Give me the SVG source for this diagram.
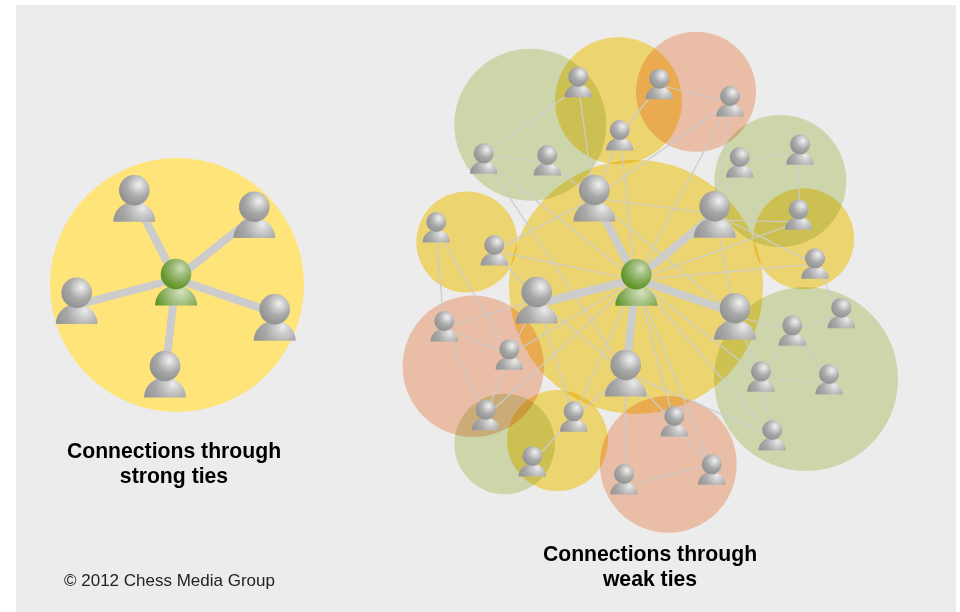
<svg xmlns="http://www.w3.org/2000/svg" xmlns:xlink="http://www.w3.org/1999/xlink" width="960" height="612" viewBox="0 0 960 612">
<style>
.t{font-family:"Liberation Sans",Arial,sans-serif;font-weight:700;font-size:21.2px;fill:#000;text-anchor:middle}
.c{font-family:"Liberation Sans",Arial,sans-serif;font-size:17px;fill:#222}
.y{fill:#ffe57a;mix-blend-mode:multiply}
.g{fill:#dee8b8;mix-blend-mode:multiply}
.s{fill:#fccdb3;mix-blend-mode:multiply}
.thick line{stroke:#ccc;stroke-width:8}
.thin line{stroke:#ccc;stroke-width:1.25}
</style>
<defs>
<radialGradient id="hg" cx=".64" cy=".32" r=".66"><stop offset="0" stop-color="#f2f2f2"/><stop offset=".22" stop-color="#d6d6d6"/><stop offset=".6" stop-color="#a9a9a9"/><stop offset="1" stop-color="#949494"/></radialGradient>
<radialGradient id="bg" gradientUnits="userSpaceOnUse" cx="8" cy="18" r="29"><stop offset="0" stop-color="#ececec"/><stop offset=".22" stop-color="#cfcfcf"/><stop offset=".6" stop-color="#a9a9a9"/><stop offset="1" stop-color="#969696"/></radialGradient>
<radialGradient id="hv" cx=".64" cy=".32" r=".66"><stop offset="0" stop-color="#cfdfb8"/><stop offset=".3" stop-color="#a6c186"/><stop offset=".75" stop-color="#76a344"/><stop offset="1" stop-color="#5f9428"/></radialGradient>
<radialGradient id="bv" gradientUnits="userSpaceOnUse" cx="5" cy="18" r="27"><stop offset="0" stop-color="#d4e2bf"/><stop offset=".35" stop-color="#adc78e"/><stop offset="1" stop-color="#5f9428"/></radialGradient>
<g id="person"><path d="M-21 31.4A21 20 0 0 1 21 31.4Z" fill="url(#bg)"/><circle r="15.3" fill="url(#hg)"/></g>
<g id="center"><path d="M-21 31.4A21 20 0 0 1 21 31.4Z" fill="url(#bv)"/><circle r="15.3" fill="url(#hv)"/></g>
</defs>
<rect width="960" height="612" fill="#fff"/>
<rect x="16" y="5" width="940" height="607" fill="#ececec"/>
<g id="circles-left"><circle cx="177" cy="285" r="127" fill="#ffe47a"/></g>
<g id="circles-right">
<circle class="y" cx="636" cy="287" r="127"/>
<circle class="g" cx="530.3" cy="124.7" r="76"/>
<circle class="y" cx="618.5" cy="100.7" r="63.5"/>
<circle class="s" cx="696" cy="91.7" r="60"/>
<circle class="g" cx="780.3" cy="181" r="66"/>
<circle class="y" cx="803.7" cy="238.8" r="50.5"/>
<circle class="y" cx="466.8" cy="242" r="50.5"/>
<circle class="s" cx="473.3" cy="366.3" r="70.7"/>
<circle class="g" cx="504.7" cy="444" r="50.3"/>
<circle class="y" cx="557.5" cy="440.5" r="50.5"/>
<circle class="s" cx="668.3" cy="464.3" r="68.4"/>
<circle class="g" cx="806" cy="379" r="92"/>
</g>
<g id="connectors">
<g class="thick">
<line x1="176" y1="279" x2="134" y2="198"/>
<line x1="176" y1="279" x2="254" y2="217"/>
<line x1="176" y1="279" x2="77" y2="305"/>
<line x1="176" y1="279" x2="275" y2="313"/>
<line x1="176" y1="279" x2="165" y2="374"/>
<line x1="636" y1="279" x2="594" y2="198"/>
<line x1="636" y1="279" x2="715" y2="214"/>
<line x1="636" y1="279" x2="537" y2="304"/>
<line x1="636" y1="279" x2="735" y2="313"/>
<line x1="636" y1="279" x2="626" y2="373"/>
</g>
<g class="thin">
<line x1="484" y1="155.6" x2="578" y2="87.3"/>
<line x1="484" y1="154" x2="547" y2="163"/>
<line x1="578" y1="83" x2="594" y2="198"/>
<line x1="620" y1="136" x2="659" y2="85"/>
<line x1="620" y1="136" x2="594" y2="198"/>
<line x1="620" y1="136" x2="636" y2="280"/>
<line x1="547" y1="161" x2="594" y2="198"/>
<line x1="594" y1="198" x2="730" y2="102"/>
<line x1="484" y1="159" x2="636" y2="280"/>
<line x1="484" y1="159" x2="626" y2="373"/>
<line x1="436" y1="228" x2="444" y2="327"/>
<line x1="436" y1="228" x2="509" y2="355"/>
<line x1="494" y1="251" x2="594" y2="198"/>
<line x1="494" y1="251" x2="636" y2="280"/>
<line x1="494" y1="251" x2="537" y2="300"/>
<line x1="594" y1="198" x2="715" y2="214"/>
<line x1="594" y1="198" x2="735" y2="316"/>
<line x1="636" y1="280" x2="730" y2="102"/>
<line x1="715" y1="214" x2="730" y2="102"/>
<line x1="715" y1="214" x2="740" y2="163"/>
<line x1="740" y1="163" x2="800" y2="150"/>
<line x1="799" y1="150" x2="799" y2="215"/>
<line x1="715" y1="220" x2="799" y2="222"/>
<line x1="715" y1="214" x2="815" y2="264"/>
<line x1="636" y1="280" x2="799" y2="222"/>
<line x1="636" y1="280" x2="815" y2="264"/>
<line x1="659" y1="85" x2="730" y2="102"/>
<line x1="715" y1="214" x2="735" y2="316"/>
<line x1="815" y1="264" x2="841" y2="314"/>
<line x1="841" y1="314" x2="792" y2="331"/>
<line x1="735" y1="316" x2="792" y2="331"/>
<line x1="792" y1="331" x2="761" y2="377"/>
<line x1="792" y1="331" x2="829" y2="380"/>
<line x1="761" y1="377" x2="829" y2="384"/>
<line x1="735" y1="316" x2="761" y2="377"/>
<line x1="761" y1="377" x2="772" y2="436"/>
<line x1="636" y1="280" x2="761" y2="377"/>
<line x1="636" y1="280" x2="772" y2="436"/>
<line x1="626" y1="373" x2="772" y2="436"/>
<line x1="626" y1="373" x2="674" y2="422"/>
<line x1="636" y1="280" x2="674" y2="422"/>
<line x1="636" y1="280" x2="712" y2="470"/>
<line x1="674" y1="422" x2="712" y2="470"/>
<line x1="624" y1="487" x2="712" y2="464"/>
<line x1="626" y1="373" x2="624" y2="480"/>
<line x1="626" y1="373" x2="574" y2="417"/>
<line x1="636" y1="280" x2="574" y2="417"/>
<line x1="537" y1="300" x2="574" y2="417"/>
<line x1="537" y1="300" x2="626" y2="373"/>
<line x1="537" y1="300" x2="444" y2="327"/>
<line x1="537" y1="300" x2="509" y2="355"/>
<line x1="636" y1="280" x2="509" y2="355"/>
<line x1="636" y1="280" x2="486" y2="416"/>
<line x1="444" y1="327" x2="509" y2="355"/>
<line x1="444" y1="327" x2="486" y2="416"/>
<line x1="509" y1="355" x2="486" y2="416"/>
<line x1="574" y1="417" x2="532" y2="462"/>
</g>
</g>
<g id="left-p1"><use href="#person" transform="translate(134.3 190.3)"/></g>
<g id="left-p2"><use href="#person" transform="translate(254.3 206.7)"/></g>
<g id="left-p3"><use href="#person" transform="translate(76.7 292.7)"/></g>
<g id="left-p4"><use href="#person" transform="translate(274.7 309.3)"/></g>
<g id="left-p5"><use href="#person" transform="translate(165 366)"/></g>
<g id="left-center"><use href="#center" transform="translate(176 274)"/></g>
<g id="right-s1"><use href="#person" transform="translate(578.3 76.7) scale(.655)"/></g>
<g id="right-s2"><use href="#person" transform="translate(659.3 78.7) scale(.655)"/></g>
<g id="right-s3"><use href="#person" transform="translate(619.7 130) scale(.655)"/></g>
<g id="right-s4"><use href="#person" transform="translate(483.7 153.3) scale(.655)"/></g>
<g id="right-s5"><use href="#person" transform="translate(547.3 155) scale(.655)"/></g>
<g id="right-s6"><use href="#person" transform="translate(436.3 222) scale(.655)"/></g>
<g id="right-s7"><use href="#person" transform="translate(494.3 245) scale(.655)"/></g>
<g id="right-s8"><use href="#person" transform="translate(730 96) scale(.655)"/></g>
<g id="right-s9"><use href="#person" transform="translate(739.7 157) scale(.655)"/></g>
<g id="right-s10"><use href="#person" transform="translate(800 144.3) scale(.655)"/></g>
<g id="right-s11"><use href="#person" transform="translate(798.7 209.3) scale(.655)"/></g>
<g id="right-s12"><use href="#person" transform="translate(815 258.3) scale(.655)"/></g>
<g id="right-s13"><use href="#person" transform="translate(444.3 321) scale(.655)"/></g>
<g id="right-s14"><use href="#person" transform="translate(509.3 349.3) scale(.655)"/></g>
<g id="right-s15"><use href="#person" transform="translate(485.7 409.7) scale(.655)"/></g>
<g id="right-s16"><use href="#person" transform="translate(573.7 411.3) scale(.655)"/></g>
<g id="right-s17"><use href="#person" transform="translate(532.3 456) scale(.655)"/></g>
<g id="right-s18"><use href="#person" transform="translate(624 474) scale(.655)"/></g>
<g id="right-s19"><use href="#person" transform="translate(841.3 307.7) scale(.655)"/></g>
<g id="right-s20"><use href="#person" transform="translate(792.3 325.3) scale(.655)"/></g>
<g id="right-s21"><use href="#person" transform="translate(761 371.3) scale(.655)"/></g>
<g id="right-s22"><use href="#person" transform="translate(829 374) scale(.655)"/></g>
<g id="right-s23"><use href="#person" transform="translate(772.3 430) scale(.655)"/></g>
<g id="right-s24"><use href="#person" transform="translate(674.3 416) scale(.655)"/></g>
<g id="right-s25"><use href="#person" transform="translate(711.7 464.3) scale(.655)"/></g>
<g id="right-l1"><use href="#person" transform="translate(594.3 190)"/></g>
<g id="right-l2"><use href="#person" transform="translate(714.7 206.3)"/></g>
<g id="right-l3"><use href="#person" transform="translate(536.7 292)"/></g>
<g id="right-l4"><use href="#person" transform="translate(625.7 365)"/></g>
<g id="right-l5"><use href="#person" transform="translate(735 308.3)"/></g>
<g id="right-center"><use href="#center" transform="translate(636.3 274.3)"/></g>
<text class="t" x="174" y="458">Connections through</text>
<text class="t" x="174" y="483">strong ties</text>
<text class="t" x="650" y="561">Connections through</text>
<text class="t" x="650" y="586">weak ties</text>
<text class="c" x="64" y="586">© 2012 Chess Media Group</text>
</svg>
